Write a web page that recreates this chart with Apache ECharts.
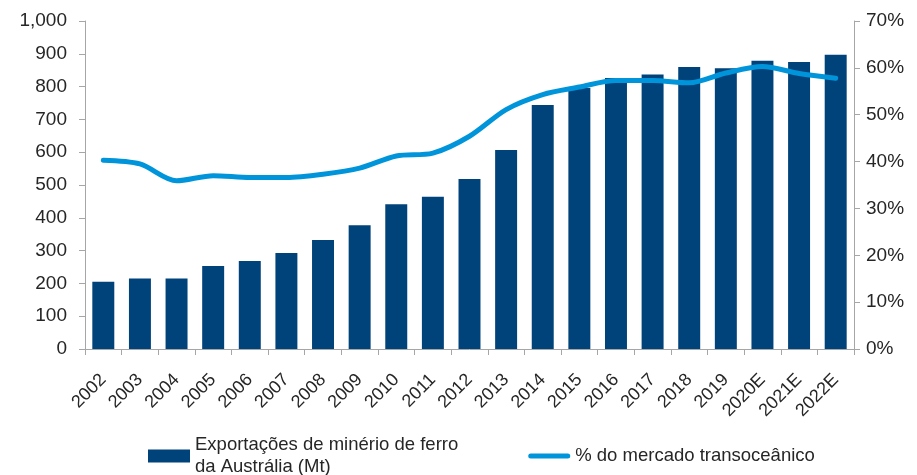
<!DOCTYPE html>
<html>
<head>
<meta charset="utf-8">
<script src="https://cdn.jsdelivr.net/npm/echarts@6/dist/echarts.min.js"></script>
<style>
  html, body { margin: 0; padding: 0; background: #fff; }
  #chart { width: 917px; height: 475px; }
</style>
</head>
<body>
<div id="chart"></div>
<script>
// categories
var years = ["2002", "2003", "2004", "2005", "2006", "2007", "2008", "2009", "2010", "2011",
  "2012", "2013", "2014", "2015", "2016", "2017", "2018", "2019", "2020E", "2021E", "2022E"];
// Australian iron ore exports (Mt)
var exports = [205, 215, 215, 253, 268, 293, 332, 377, 441, 464,
  518, 607, 744, 796, 826, 837, 860, 856, 879, 875, 897];
// share of seaborne market (%)
var share = [40.3, 39.5, 35.9, 37.0, 36.6, 36.6, 37.3, 38.6, 41.2, 41.8,
  45.4, 51.1, 54.3, 55.9, 57.3, 57.3, 56.8, 58.9, 60.3, 58.8, 57.8];

var barName = "Exportações de minério de ferro\nda Austrália (Mt)";
var lineName = "% do mercado transoceânico";

var axisGray = "#a6a6a6";
var font = "Liberation Sans, Arial, sans-serif";

// thick rounded stroke for the line's legend key (moves keep the full icon box)
var lineIcon = "path://M0,0M42,13M2.5,4L39.5,4A2.5,2.5 0 0 1 39.5,9L2.5,9A2.5,2.5 0 0 1 2.5,4Z";

var chart = echarts.init(document.getElementById("chart"));

var option = {
  backgroundColor: "#fff",
  animation: false,
  textStyle: { fontFamily: font },
  grid: { left: 85, right: 63, top: 21, bottom: 126 },
  legend: {
    top: 429,
    left: 143,
    itemGap: 70,
    itemWidth: 42,
    itemHeight: 13,
    textStyle: { fontSize: 18.5, color: "#262626", fontFamily: font, lineHeight: 22 },
    data: [
      { name: barName, icon: "rect" },
      { name: lineName, icon: lineIcon }
    ]
  },
  xAxis: {
    type: "category",
    data: years,
    axisLine: { lineStyle: { color: axisGray, width: 1 } },
    axisTick: { show: true, alignWithLabel: false, length: 6, lineStyle: { color: axisGray } },
    axisLabel: { rotate: 45, fontSize: 18, color: "#262626", margin: 28, interval: 0 }
  },
  yAxis: [
    {
      type: "value",
      min: 0, max: 1000, interval: 100,
      splitLine: { show: false },
      axisLine: { show: true, lineStyle: { color: axisGray } },
      axisTick: { show: true, length: 6, lineStyle: { color: axisGray } },
      axisLabel: {
        fontSize: 19, color: "#262626", margin: 18,
        formatter: function (v) { return v.toLocaleString("en-US"); }
      }
    },
    {
      type: "value",
      min: 0, max: 70, interval: 10,
      splitLine: { show: false },
      axisLine: { show: true, lineStyle: { color: axisGray } },
      axisTick: { show: true, length: 6, lineStyle: { color: axisGray } },
      axisLabel: { fontSize: 19, color: "#262626", margin: 12, formatter: "{value}%" }
    }
  ],
  series: [
    {
      name: barName,
      type: "bar",
      barWidth: "60%",
      itemStyle: { color: "#00427a" },
      data: exports
    },
    {
      name: lineName,
      type: "line",
      yAxisIndex: 1,
      smooth: 0.3,
      symbol: "none",
      lineStyle: { color: "#0095da", width: 5, cap: "round", join: "round" },
      itemStyle: { color: "#0095da" },
      data: share
    }
  ]
};

chart.setOption(option);
</script>
</body>
</html>
